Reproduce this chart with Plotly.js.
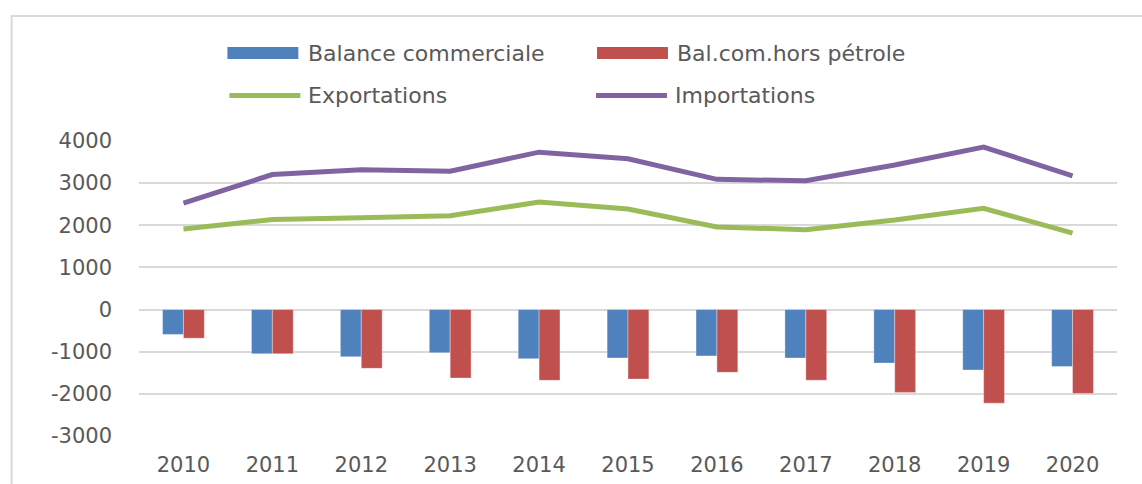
<!DOCTYPE html>
<html>
<head>
<meta charset="utf-8">
<script src="https://cdn.plot.ly/plotly-3.0.1.min.js"></script>
<style>html,body{margin:0;padding:0;background:#fff;}#chart{width:1142px;height:484px;}</style>
</head>
<body>
<div id="chart"></div>
<script>
const years = ['2010','2011','2012','2013','2014','2015','2016','2017','2018','2019','2020'];
const balanceCommerciale = [-590, -1050, -1120, -1025, -1165, -1150, -1100, -1150, -1270, -1435, -1350];
const balHorsPetrole = [-680, -1050, -1395, -1625, -1680, -1650, -1490, -1675, -1965, -2220, -1990];
const exportations = [1910, 2140, 2180, 2225, 2550, 2385, 1960, 1895, 2125, 2405, 1815];
const importations = [2525, 3205, 3315, 3285, 3735, 3580, 3090, 3055, 3430, 3855, 3175];
const seriesNames = ['Balance commerciale', 'Bal.com.hors pétrole', 'Exportations', 'Importations'];
const seriesColors = ['#4F81BD', '#C0504D', '#9BBB59', '#8064A2'];
const yTicks = [-3000, -2000, -1000, 0, 1000, 2000, 3000, 4000];

const FONT = 'DejaVu Sans, Verdana, sans-serif';
const TXT = '#595959';

// plot area geometry (pixels)
const W = 1142, H = 484;
const L = 138.5, R = 24.5, T = 141, B = 48;
const PW = W - L - R, PH = H - T - B;
const px = x => (x - L) / PW;
const py = y => (H - B - y) / PH;

const traces = [
  {type:'bar', x: years, y: balanceCommerciale, name: seriesNames[0],
   marker:{color: seriesColors[0], line:{color:'rgba(255,255,255,0.35)', width:1}}},
  {type:'bar', x: years, y: balHorsPetrole, name: seriesNames[1],
   marker:{color: seriesColors[1], line:{color:'rgba(255,255,255,0.35)', width:1}}},
  {type:'scatter', mode:'lines', x: years, y: exportations, name: seriesNames[2],
   line:{color: seriesColors[2], width:5}},
  {type:'scatter', mode:'lines', x: years, y: importations, name: seriesNames[3],
   line:{color: seriesColors[3], width:5}}
];

// legend (drawn manually to reproduce the two-column layout with wide swatches)
const legendItems = [
  {kind:'rect', x0:227, x1:298, y:53, tx:306},
  {kind:'rect', x0:597, x1:668, y:53, tx:675},
  {kind:'line', x0:229, x1:300, y:95.5, tx:306},
  {kind:'line', x0:596, x1:667, y:95.5, tx:673}
];
const shapes = [{type: 'rect', xref: 'paper', yref: 'paper', x0: px(11), x1: px(1160), y0: py(500), y1: py(16),
            line: {color: '#D9D9D9', width: 2}, fillcolor: 'rgba(0,0,0,0)', layer: 'below'}];
const annotations = [];
legendItems.forEach((it, i) => {
  if (it.kind === 'rect') {
    shapes.push({type:'rect', xref:'paper', yref:'paper', x0:px(it.x0), x1:px(it.x1), y0:py(it.y+6), y1:py(it.y-6),
                 fillcolor: seriesColors[i], line:{width:0}});
  } else {
    shapes.push({type:'line', xref:'paper', yref:'paper', x0:px(it.x0), x1:px(it.x1), y0:py(it.y), y1:py(it.y),
                 line:{color: seriesColors[i], width:5}});
  }
  annotations.push({xref:'paper', yref:'paper', x:px(it.tx), y:py(it.y), xanchor:'left', yanchor:'middle',
                    text: seriesNames[i], showarrow:false, font:{family:FONT, size:22, color:TXT}});
});

const layout = {
  width: W, height: H,
  margin: {l: L, r: R, t: T, b: B},
  paper_bgcolor: '#fff', plot_bgcolor: '#fff',
  barmode: 'group', bargap: 0.53, bargroupgap: 0,
  font: {family: FONT, size: 21, color: TXT},
  showlegend: false,
  xaxis: {type: 'category', showgrid: false, zeroline: false, showline: false,
          ticks: '', ticklabelstandoff: 14, tickfont: {family: FONT, size: 21, color: TXT}},
  yaxis: {range: [-3000, 4000], tickvals: yTicks, ticktext: yTicks.map(String),
          showgrid: true, gridcolor: '#D9D9D9', gridwidth: 2,
          zeroline: true, zerolinecolor: '#D9D9D9', zerolinewidth: 2,
          showline: false, ticks: '', ticklabelstandoff: 26,
          tickfont: {family: FONT, size: 21, color: TXT}},
  shapes: shapes,
  annotations: annotations
};

Plotly.newPlot('chart', traces, layout, {displayModeBar: false, staticPlot: true});
</script>
</body>
</html>
